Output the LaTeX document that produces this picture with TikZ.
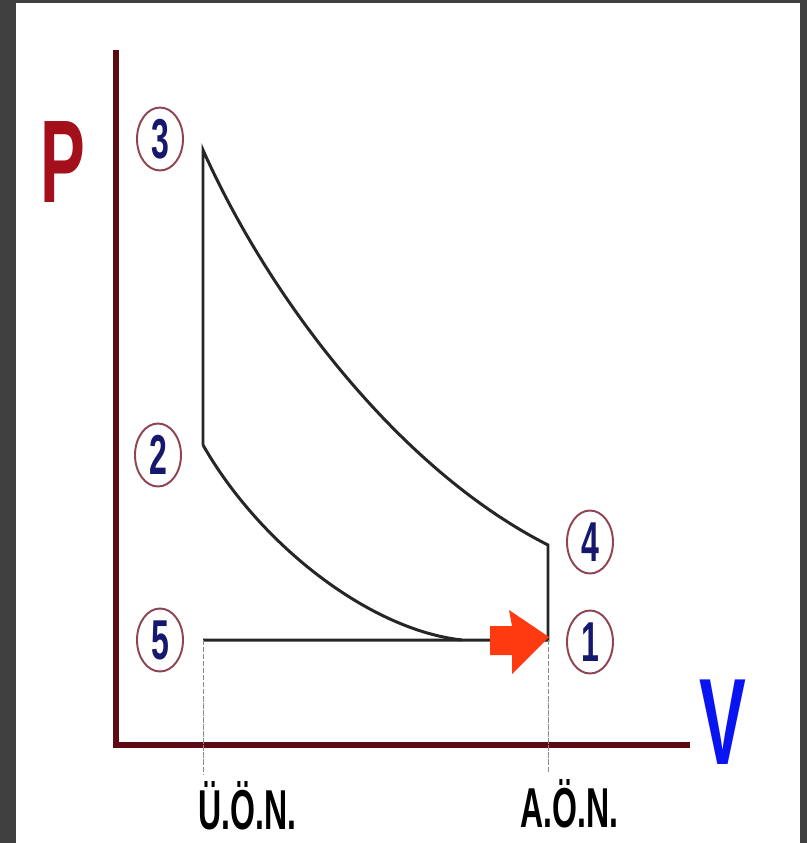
\documentclass[tikz,border=0pt]{standalone}
\usepackage{graphicx}
\usepackage{fontspec}
\setmainfont{Liberation Sans}
\usetikzlibrary{positioning,shapes.geometric}
\definecolor{AxisRed}{HTML}{5C0B12}
\definecolor{PRed}{HTML}{A3101C}
\definecolor{VBlue}{HTML}{0A14F0}
\definecolor{NumBlue}{HTML}{16186E}
\definecolor{RingBrown}{HTML}{8E4452}
\definecolor{ArrOrange}{HTML}{FF3A10}
\definecolor{FrameGray}{HTML}{404040}
\newcommand{\narrow}[1]{\scalebox{0.57}[1]{#1}}

\begin{document}
\begin{tikzpicture}[
  x=0.02cm,y=-0.02cm,
  num/.style={ellipse,draw=RingBrown,line width=1.1pt,inner sep=0pt,
              minimum width=0.92cm,minimum height=1.26cm,text=NumBlue,
              font=\fontsize{32}{32}\selectfont\bfseries},
  axis/.style={draw=AxisRed,line width=3pt},
  cyc/.style={draw=black!85,line width=1.7pt},
  guide/.style={draw=black!45,line width=0.4pt,dash pattern=on 3pt off 1pt},
  dead/.style={anchor=base west,inner sep=0pt,font=\fontsize{32}{32}\selectfont\bfseries},
]
% frame
\fill[FrameGray] (0,0) rectangle (807,843);
\fill[white] (16,3) rectangle (800,843);
\useasboundingbox (0,0) rectangle (807,843);

% axes
\coordinate (ptop) at (116,50);
\coordinate (vend) at (690,745);
\draw[axis] (ptop) |- (vend);
\node[text=PRed,font=\fontsize{67}{67}\selectfont\bfseries] (plab) at (63,162) {\narrow{P}};
\node[text=VBlue,font=\fontsize{70}{70}\selectfont\bfseries] (vlab) at (723,722) {\narrow{V}};

% cycle points
\coordinate (p1) at (548,640);
\coordinate (p2) at (203,445);
\coordinate (p3) at (203,150);
\coordinate (p4) at (548,545);
\coordinate (p5) at (203,640);
\coordinate (bend) at (462,640);

\draw[cyc] (p5) -- (p1) -- (p4) .. controls (400,470) and (270,300) .. (p3) -- (p2);
\draw[cyc] (p2) .. controls (260,545) and (370,630) .. (bend);

% push arrow
\fill[ArrOrange] (490,626) -- (512,626) -- (509,610) -- (549,637)
  -- (512,674) -- (512,655) -- (490,655) -- cycle;

% dead centres
\coordinate (tdc) at (203,775);
\coordinate (bdc) at (548,772);
\draw[guide] (p5) -- (tdc);
\draw[guide] (p1) -- (bdc);
\node[dead] (tdclab) at (198,829) {\narrow{Ü.Ö.N.}};
\node[dead] (bdclab) at (520,827) {\narrow{A.Ö.N.}};

% state numbers
\node[num] (n3) at (160,139) {\narrow{3}};
\node[num] (n2) at (158,455) {\narrow{2}};
\node[num] (n5) at (160,640) {\narrow{5}};
\node[num] (n4) at (590,542) {\narrow{4}};
\node[num] (n1) at (590,642) {\narrow{1}};
\end{tikzpicture}
\end{document}
